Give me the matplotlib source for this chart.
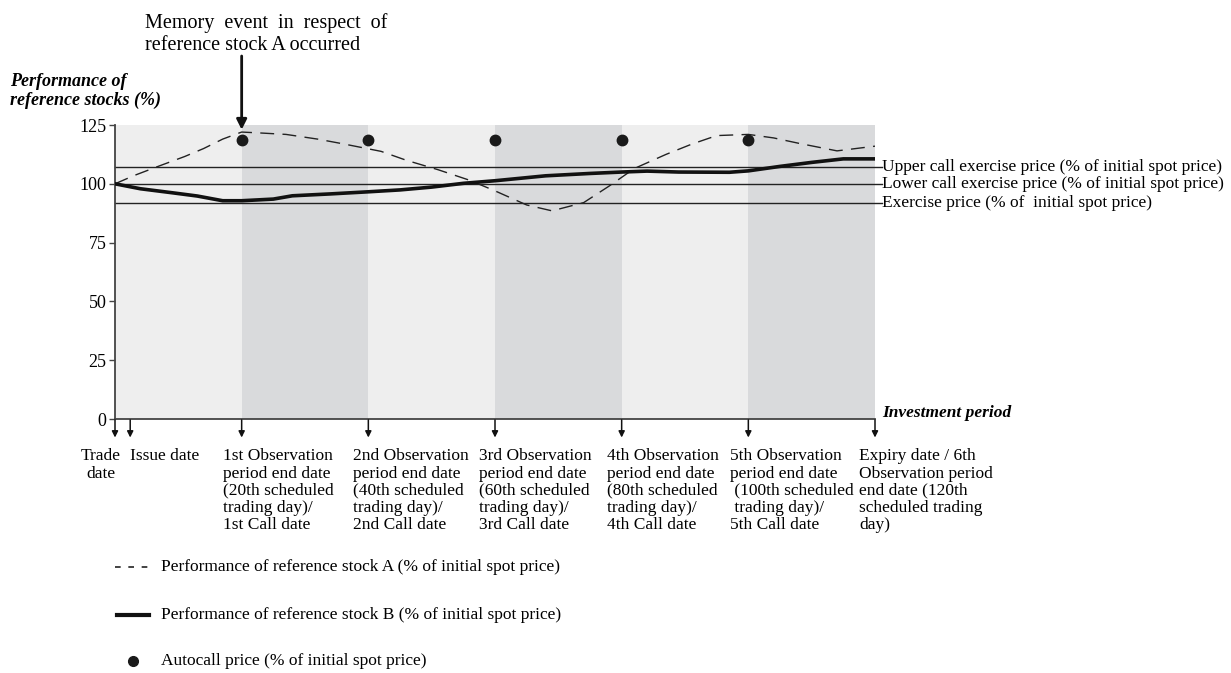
import matplotlib
matplotlib.use("Agg")
import matplotlib.pyplot as plt
from matplotlib.lines import Line2D

plt.rcParams['font.family'] = ['Liberation Serif', 'DejaVu Serif']

# datos
dias_a = [0, 3, 7, 11, 14, 17, 20, 23, 27, 32, 36, 42, 46, 51, 56, 60, 65, 69,
          74, 78, 82, 87, 91, 95, 100, 104, 108, 114, 120]
perf_a = [100, 103.5, 107.6, 111.6, 115, 119, 122, 121.6, 121, 119, 117, 113.8,
          110, 106, 101.5, 97, 91, 88.5, 92, 99, 106.5, 112.5, 116.8, 120.5, 121,
          119.5, 117.2, 114, 116]

dias_b = [0, 4, 9, 13, 17, 20, 25, 28, 34, 40, 45, 50, 55, 60, 68, 75, 80, 84,
          89, 97, 100, 105, 110, 115, 120]
perf_b = [100, 97.9, 96.2, 94.8, 92.8, 92.8, 93.5, 94.9, 95.7, 96.6, 97.4, 98.6,
          100.2, 101.3, 103.4, 104.4, 105, 105.4, 105, 104.9, 105.5, 107.4, 109.1,
          110.6, 110.6]

dias_autocall = [20, 40, 60, 80, 100]
nivel_autocall = [118.5, 118.5, 118.5, 118.5, 118.5]

niveles = [107, 100, 92]
nombres_niveles = ["Upper call exercise price (% of initial spot price)",
                   "Lower call exercise price (% of initial spot price)",
                   "Exercise price (% of  initial spot price)"]

periodos = [0, 20, 40, 60, 80, 100, 120]

fechas = [0, 2.4, 20, 40, 60, 80, 100, 120]
etiquetas = ["Trade\ndate",
             "Issue date",
             "1st Observation\nperiod end date\n(20th scheduled\ntrading day)/\n1st Call date",
             "2nd Observation\nperiod end date\n(40th scheduled\ntrading day)/\n2nd Call date",
             "3rd Observation\nperiod end date\n(60th scheduled\ntrading day)/\n3rd Call date",
             "4th Observation\nperiod end date\n(80th scheduled\ntrading day)/\n4th Call date",
             "5th Observation\nperiod end date\n (100th scheduled\n trading day)/\n5th Call date",
             "Expiry date / 6th\nObservation period\nend date (120th\nscheduled trading\nday)"]
pos_etiquetas = [-2.2, 2.4, 17.05, 37.6, 57.5, 77.7, 97.1, 117.5]

fig = plt.figure(figsize=(12.31, 6.73), dpi=100)
ax = fig.add_axes([115 / 1231, 1 - 419 / 673, 760 / 1231, 294 / 673])
ax.set_xlim(0, 120)
ax.set_ylim(0, 125)

# franjas de periodos
for i in range(len(periodos) - 1):
    color = "#eeeeee" if i % 2 == 0 else "#d9dadc"
    ax.axvspan(periodos[i], periodos[i + 1], color=color, lw=0, zorder=0)

# lineas de precios de ejercicio
for nivel, nombre in zip(niveles, nombres_niveles):
    ax.plot([0, 121.1], [nivel, nivel], color="#222222", lw=1.0, clip_on=False, zorder=2)
    ax.text(121.1, nivel, nombre, ha="left", va="center", fontsize=12.5)

ax.plot(dias_a, perf_a, color="#222222", lw=1.0, ls=(0, (10, 6)), zorder=3)
ax.plot(dias_b, perf_b, color="#111111", lw=2.6, solid_joinstyle="round", zorder=3)
ax.plot(dias_autocall, nivel_autocall, "o", color="#1a1a1a", ms=7.5, ls="none", zorder=4)

ax.set_xticks([])
ax.set_yticks([0, 25, 50, 75, 100, 125])
ax.tick_params(axis="y", length=4, width=1, color="#444444", labelsize=13, pad=2)
for s in ["top", "right"]:
    ax.spines[s].set_visible(False)
ax.spines["left"].set_color("#444444")
ax.spines["bottom"].set_color("#444444")
ax.spines["left"].set_linewidth(1.3)
ax.spines["bottom"].set_linewidth(1.3)

# flechas y etiquetas de fechas
trans = ax.get_xaxis_transform()
for f in fechas:
    ax.annotate("", xy=(f, -0.063), xytext=(f, -0.003), xycoords=trans, textcoords=trans,
                arrowprops=dict(arrowstyle="-|>", color="#111111", lw=1.1,
                                mutation_scale=9, shrinkA=0, shrinkB=0))
for txt, x in zip(etiquetas, pos_etiquetas):
    ha = "center" if txt.startswith("Trade") else "left"
    ax.text(x, -0.1, txt, transform=trans, ha=ha, va="top", fontsize=12.5,
            linespacing=1.1, multialignment=ha)

ax.text(121.1, 0.02, "Investment period", transform=trans, ha="left", va="center",
        fontsize=12.5, fontweight="bold", fontstyle="italic")

fig.text(10 / 1231, 1 - 73 / 673, "Performance of\nreference stocks (%)", ha="left", va="top",
         fontsize=13, fontweight="bold", fontstyle="italic", linespacing=1.15)

# evento memoria
ax.annotate("", xy=(20, 123), xytext=(20, 1 - 56 / 673), xycoords="data",
            textcoords=("data", "figure fraction"),
            arrowprops=dict(arrowstyle="-|>", color="#111111", lw=2,
                            mutation_scale=15, shrinkA=0, shrinkB=0))
fig.text(145 / 1231, 1 - 13 / 673, "Memory  event  in  respect  of\nreference stock A occurred",
         ha="left", va="top", fontsize=14.5, linespacing=1.25)

# leyenda manual
fig.add_artist(Line2D([115 / 1231, 148 / 1231], [1 - 567 / 673] * 2, color="#222222",
                      lw=1.2, ls=(0, (3.4, 4.6))))
fig.add_artist(Line2D([117 / 1231, 149 / 1231], [1 - 615 / 673] * 2, color="#111111", lw=3))
fig.add_artist(Line2D([133 / 1231], [1 - 661 / 673], marker="o", color="#1a1a1a", ms=7,
                      ls="none"))
legend_txt = ["Performance of reference stock A (% of initial spot price)",
              "Performance of reference stock B (% of initial spot price)",
              "Autocall price (% of initial spot price)"]
for t, yp in zip(legend_txt, [567, 615, 661]):
    fig.text(161 / 1231, 1 - yp / 673, t, ha="left", va="center", fontsize=12.5)

fig.savefig("out.png", dpi=100)
